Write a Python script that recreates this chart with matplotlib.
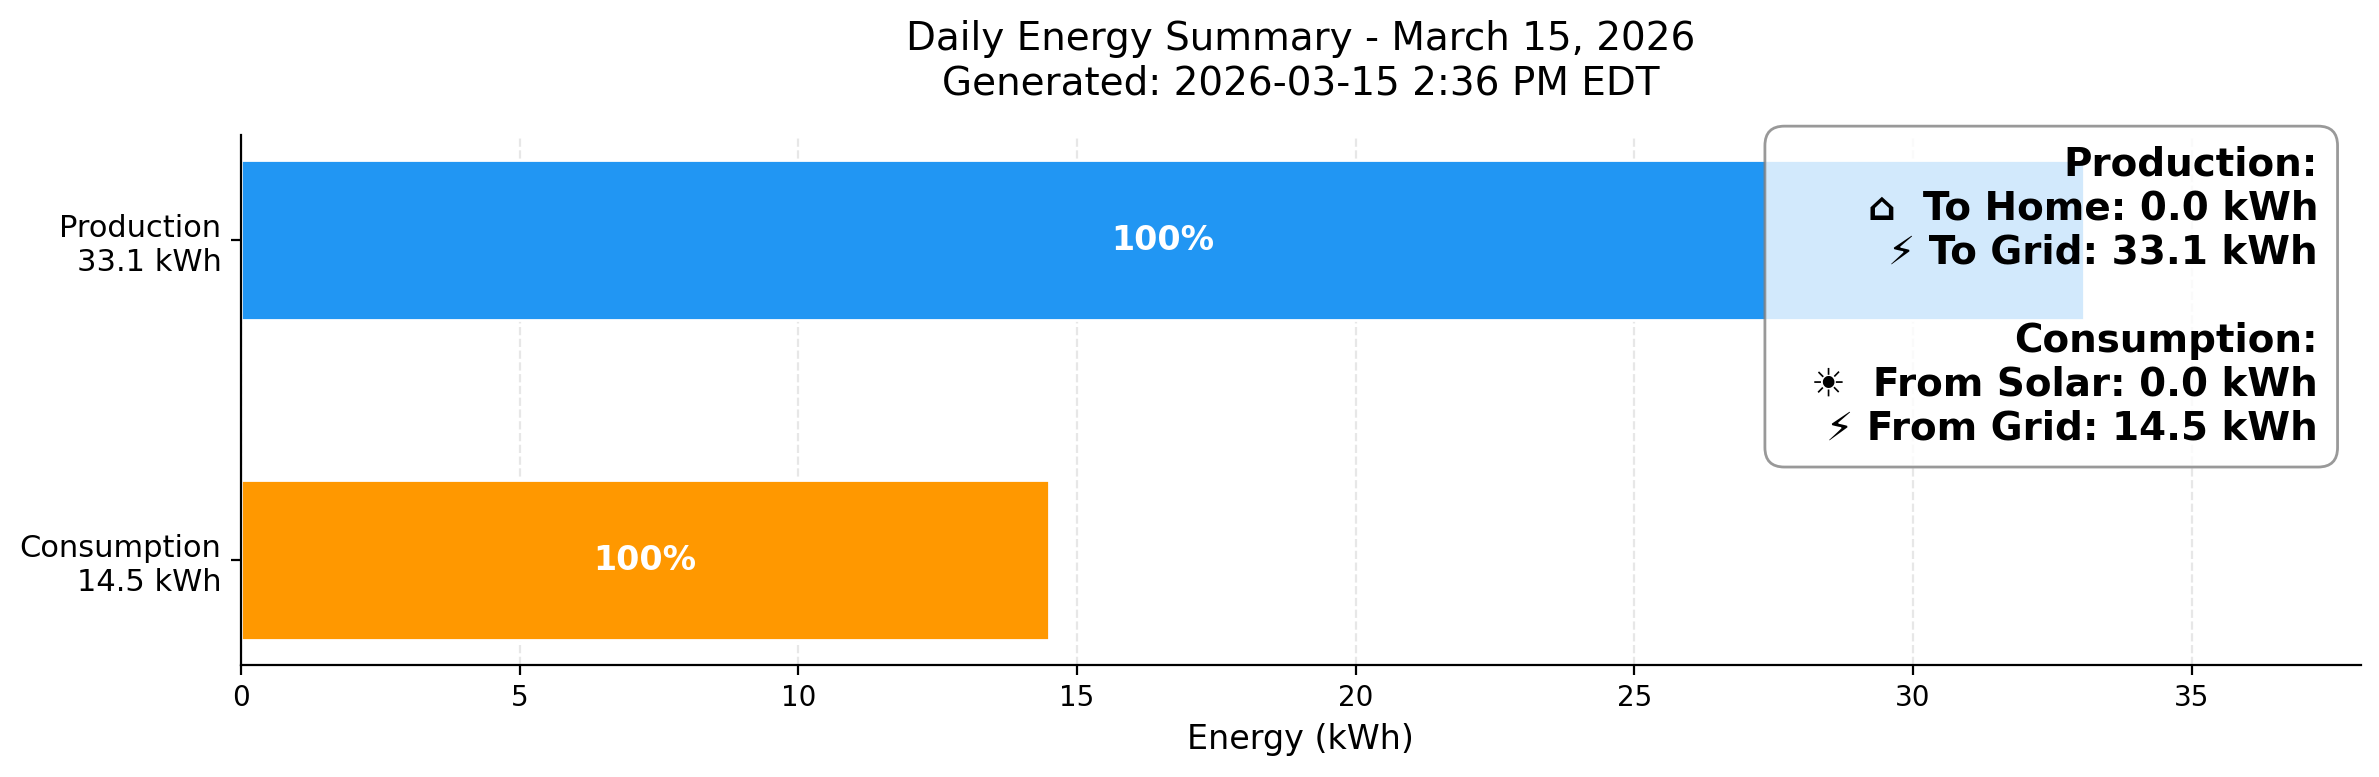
import matplotlib
matplotlib.use('Agg')
import matplotlib.pyplot as plt

plt.rcParams['font.family'] = ['DejaVu Sans']

# data
categories = ['Production', 'Consumption']
energy_kwh = [33.06, 14.5]
share_labels = ['100%', '100%']
bar_colors = ['#2196F3', '#FF9800']
x_ticks = [0, 5, 10, 15, 20, 25, 30, 35]
summary_lines = ['Production:',
                 '  \u2302  To Home: 0.0 kWh',
                 '  \u26a1 To Grid: 33.1 kWh',
                 '',
                 'Consumption:',
                 '  \u2600  From Solar: 0.0 kWh',
                 '  \u26a1 From Grid: 14.5 kWh']

fig = plt.figure(figsize=(2379 / 200, 777 / 200), dpi=200)
ax = fig.add_axes([241 / 2379, 1 - 664.5 / 777, (2360.5 - 241) / 2379, (664.5 - 135) / 777])

ypos = list(range(len(categories)))
ax.barh(ypos, energy_kwh, height=0.5, color=bar_colors, edgecolor='white', linewidth=1, zorder=2)

# percentage in middle of each bar
for y, val, lab in zip(ypos, energy_kwh, share_labels):
    ax.text(val / 2, y, lab, ha='center', va='center', color='white',
            fontsize=12, fontweight='bold', zorder=3)

ax.set_xlim(0, 38.03)
ax.set_ylim(1.325, -0.329)
ax.set_xticks(x_ticks)
ax.set_yticks(ypos)
ax.set_yticklabels(['%s\n%.1f kWh' % (c, v) for c, v in zip(categories, energy_kwh)], fontsize=11)
ax.tick_params(axis='x', labelsize=10)
ax.set_xlabel('Energy (kWh)', fontsize=12)
ax.grid(axis='x', linestyle='--', alpha=0.3, zorder=0)
ax.set_axisbelow(True)
ax.spines['top'].set_visible(False)
ax.spines['right'].set_visible(False)

ax.set_title('Daily Energy Summary - March 15, 2026\nGenerated: 2026-03-15 2:36 PM EDT', fontsize=14, pad=14.7)

ax.text(0.98, 0.98, '\n'.join(summary_lines), transform=ax.transAxes, ha='right', va='top',
        fontsize=14, fontweight='bold', zorder=5,
        bbox=dict(boxstyle='round,pad=0.5', facecolor='white', edgecolor='gray', alpha=0.8))

fig.savefig('out.png', dpi=200)
